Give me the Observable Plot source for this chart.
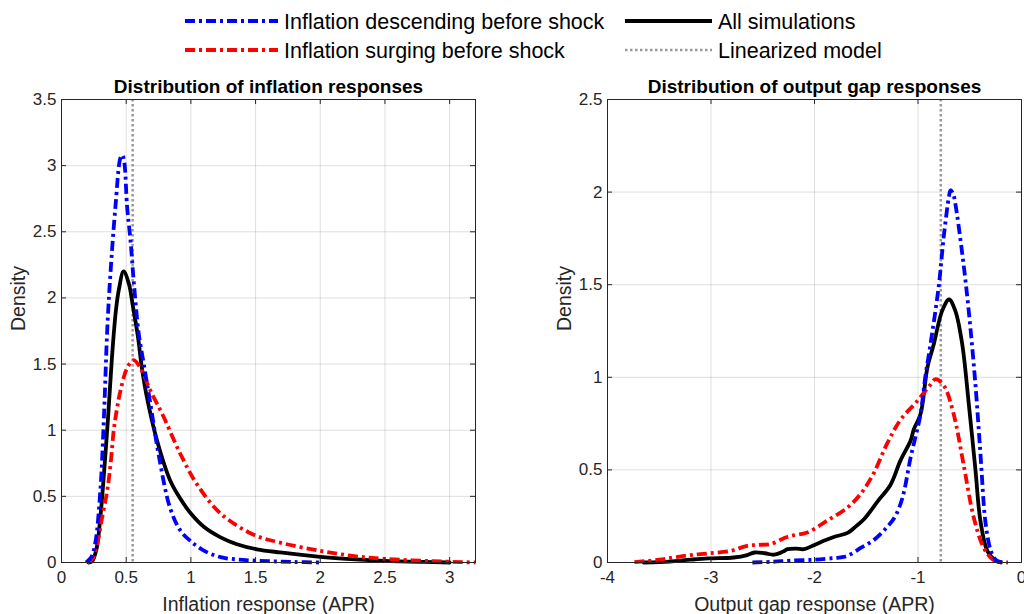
<!DOCTYPE html>
<html>
<head>
<meta charset="utf-8">
<script src="https://cdn.jsdelivr.net/npm/d3@7"></script>
<script src="https://cdn.jsdelivr.net/npm/@observablehq/plot@0.6"></script>
<style>
  body { margin: 0; background: #fff; font-family: "Liberation Sans", Arial, sans-serif; }
  #wrap { position: relative; width: 1024px; height: 614px; overflow: hidden; background: #fff; }
  .panel { position: absolute; top: 0; }
</style>
</head>
<body>
<div id="wrap"></div>
<script>
// ---------------- DATA ----------------
const seriesNames = ["Inflation descending before shock", "Inflation surging before shock", "All simulations", "Linearized model"];
const seriesColors = ["#0000ff", "#ff0000", "#000000", "#999999"];

// Left panel: inflation responses
const inflDescX = [0.19,0.23,0.26,0.30,0.33,0.353,0.378,0.417,0.456,0.47,0.485,0.507,0.533,0.558,0.597,0.636,0.687,0.75,0.84,0.92,1.0,1.1,1.23,1.4,1.6,1.8,2.0];
const inflDescY = [0,0.04,0.14,0.54,1.15,1.75,2.18,2.69,3.06,3.08,3.03,2.69,2.44,2.13,1.73,1.50,1.20,0.82,0.41,0.24,0.16,0.09,0.04,0.02,0.01,0.004,0];
const inflSurgX = [0.2,0.24,0.276,0.31,0.353,0.38,0.404,0.43,0.456,0.507,0.558,0.61,0.687,0.79,0.919,1.048,1.23,1.485,1.69,2.0,2.25,2.49,2.87,3.2];
const inflSurgY = [0,0.03,0.14,0.32,0.54,0.75,1.0,1.17,1.30,1.47,1.53,1.47,1.30,1.10,0.82,0.59,0.37,0.21,0.15,0.088,0.05,0.028,0.01,0.0];
const inflAllX = [0.21,0.237,0.27,0.30,0.353,0.39,0.42,0.443,0.48,0.52,0.553,0.592,0.62,0.66,0.739,0.84,0.92,1.0,1.1,1.23,1.35,1.51,1.69,2.0,2.2,2.49,2.8,3.0];
const inflAllY = [0,0.01,0.1,0.34,1.0,1.55,1.9,2.06,2.2,2.11,1.93,1.70,1.48,1.25,0.92,0.62,0.48,0.37,0.27,0.19,0.14,0.10,0.076,0.043,0.028,0.013,0.004,0];
const inflLinear = 0.55;

// Right panel: output gap responses
const gapDescX = [-2.6,-2.4,-2.23,-2.0,-1.81,-1.72,-1.65,-1.55,-1.43,-1.3,-1.22,-1.15,-1.07,-0.976,-0.93,-0.879,-0.80,-0.751,-0.70,-0.686,-0.66,-0.64,-0.573,-0.51,-0.445,-0.397,-0.35,-0.31,-0.284,-0.24,-0.17];
const gapDescY = [0,0.004,0.01,0.015,0.024,0.03,0.045,0.08,0.12,0.19,0.25,0.35,0.57,0.80,1.0,1.18,1.49,1.76,1.98,2.01,1.99,1.94,1.67,1.36,0.96,0.59,0.225,0.09,0.045,0.01,0];
const gapSurgX = [-3.74,-3.5,-3.36,-3.2,-3.03,-2.81,-2.65,-2.55,-2.42,-2.3,-2.23,-2.07,-1.88,-1.68,-1.555,-1.43,-1.30,-1.17,-1.01,-0.88,-0.83,-0.75,-0.655,-0.56,-0.46,-0.365,-0.27,-0.13];
const gapSurgY = [0.002,0.015,0.027,0.04,0.049,0.063,0.09,0.095,0.10,0.13,0.144,0.162,0.225,0.297,0.37,0.48,0.64,0.77,0.87,0.96,0.99,0.955,0.80,0.53,0.24,0.08,0.013,0];
const gapAllX = [-3.65,-3.4,-3.2,-3.03,-2.78,-2.65,-2.58,-2.48,-2.39,-2.3,-2.26,-2.18,-2.10,-2.0,-1.91,-1.8,-1.68,-1.6,-1.52,-1.39,-1.265,-1.17,-1.07,-1.04,-0.976,-0.91,-0.847,-0.766,-0.70,-0.64,-0.573,-0.51,-0.445,-0.397,-0.33,-0.25,-0.2];
const gapAllY = [0,0.005,0.015,0.022,0.027,0.04,0.054,0.05,0.042,0.06,0.072,0.075,0.072,0.095,0.117,0.14,0.16,0.195,0.235,0.33,0.42,0.55,0.66,0.72,0.80,1.05,1.18,1.36,1.42,1.36,1.18,0.86,0.50,0.225,0.063,0.01,0];
const gapLinear = -0.78;

// Axes
const inflTicksX = [0,0.5,1,1.5,2,2.5,3];
const inflTicksY = [0,0.5,1,1.5,2,2.5,3,3.5];
const gapTicksX = [-4,-3,-2,-1,0];
const gapTicksY = [0,0.5,1,1.5,2,2.5];

const titles = ["Distribution of inflation responses", "Distribution of output gap responses"];
const xLabels = ["Inflation response (APR)", "Output gap response (APR)"];
const yLabel = "Density";

// ---------------- DRAW ----------------
const zip = (xs, ys) => xs.map((x, i) => ({x, y: ys[i]}));
const DASHDOT = "10,4,3,4";
const DOTTED = "2.5,2.5";
const FONT = "Liberation Sans, Arial, sans-serif";
const TXT = "#262626";

function panel({xDomain, yDomain, xTicks, yTicks, desc, surg, all, lin, title, xLabel, width, ml, mr}) {
  const H = 614, mt = 99, mb = 52;
  const fh = H - mt - mb;
  const fw = width - ml - mr;
  return Plot.plot({
    width, height: H,
    marginLeft: ml, marginRight: mr, marginTop: mt, marginBottom: mb,
    style: {fontFamily: FONT, fontSize: "17px", color: TXT, background: "transparent", overflow: "visible"},
    x: {domain: xDomain, ticks: xTicks},
    y: {domain: yDomain, ticks: yTicks},
    marks: [
      Plot.gridX(xTicks, {stroke: TXT, strokeOpacity: 0.15, strokeWidth: 1}),
      Plot.gridY(yTicks, {stroke: TXT, strokeOpacity: 0.15, strokeWidth: 1}),
      Plot.ruleX([lin], {stroke: seriesColors[3], strokeWidth: 2.5, strokeDasharray: DOTTED}),
      Plot.line(all, {x: "x", y: "y", stroke: seriesColors[2], strokeWidth: 3.8, curve: "catmull-rom"}),
      Plot.line(surg, {x: "x", y: "y", stroke: seriesColors[1], strokeWidth: 3.8, strokeDasharray: DASHDOT, strokeLinecap: "butt", curve: "catmull-rom"}),
      Plot.line(desc, {x: "x", y: "y", stroke: seriesColors[0], strokeWidth: 3.8, strokeDasharray: DASHDOT, strokeLinecap: "butt", curve: "catmull-rom"}),
      // inward ticks (MATLAB style box)
      Plot.ruleX(xTicks, {stroke: TXT, strokeWidth: 1, insetTop: fh - 5}),
      Plot.ruleX(xTicks, {stroke: TXT, strokeWidth: 1, insetBottom: fh - 5}),
      Plot.ruleY(yTicks, {stroke: TXT, strokeWidth: 1, insetRight: fw - 5}),
      Plot.ruleY(yTicks, {stroke: TXT, strokeWidth: 1, insetLeft: fw - 5}),
      Plot.frame({stroke: TXT, strokeWidth: 1}),
      Plot.axisX(xTicks, {tickSize: 0, tickPadding: 8, tickFormat: d => String(d), label: null, fontSize: 17, fill: TXT}),
      Plot.axisY(yTicks, {tickSize: 0, tickPadding: 5, tickFormat: d => String(d), label: null, fontSize: 17, fill: TXT}),
      Plot.text([title], {text: d => d, frameAnchor: "top", lineAnchor: "middle", dy: -13, fontWeight: "bold", fontSize: 19, fill: "#000"}),
      Plot.text([xLabel], {text: d => d, frameAnchor: "bottom", lineAnchor: "middle", dy: 42, fontSize: 19.5, fill: TXT}),
      Plot.text([yLabel], {text: d => d, frameAnchor: "left", dx: -43, rotate: -90, fontSize: 19.5, fill: TXT})
    ]
  });
}

const wrap = document.getElementById("wrap");

const left = panel({
  xDomain: [0, 3.2], yDomain: [0, 3.5], xTicks: inflTicksX, yTicks: inflTicksY,
  desc: zip(inflDescX, inflDescY), surg: zip(inflSurgX, inflSurgY), all: zip(inflAllX, inflAllY),
  lin: inflLinear, title: titles[0], xLabel: xLabels[0], width: 500, ml: 61, mr: 25
});
left.classList.add("panel");
left.style.left = "0px";
wrap.appendChild(left);

const right = panel({
  xDomain: [-4, 0], yDomain: [0, 2.5], xTicks: gapTicksX, yTicks: gapTicksY,
  desc: zip(gapDescX, gapDescY), surg: zip(gapSurgX, gapSurgY), all: zip(gapAllX, gapAllY),
  lin: gapLinear, title: titles[1], xLabel: xLabels[1], width: 484, ml: 67, mr: 3
});
right.classList.add("panel");
right.style.left = "540px";
wrap.appendChild(right);

// Legend
const legendItems = [
  {name: seriesNames[0], color: seriesColors[0], dash: DASHDOT, w: 3.8, x1: 185, x2: 278, tx: 284, y: 21},
  {name: seriesNames[1], color: seriesColors[1], dash: DASHDOT, w: 3.8, x1: 185, x2: 278, tx: 284, y: 50},
  {name: seriesNames[2], color: seriesColors[2], dash: null, w: 3.8, x1: 625, x2: 712, tx: 718, y: 21},
  {name: seriesNames[3], color: seriesColors[3], dash: DOTTED, w: 2.5, x1: 625, x2: 712, tx: 718, y: 50}
];
const ns = "http://www.w3.org/2000/svg";
const lsvg = document.createElementNS(ns, "svg");
lsvg.setAttribute("width", 1024); lsvg.setAttribute("height", 70);
lsvg.style.position = "absolute"; lsvg.style.left = "0"; lsvg.style.top = "0";
for (const it of legendItems) {
  const l = document.createElementNS(ns, "line");
  l.setAttribute("x1", it.x1); l.setAttribute("x2", it.x2);
  l.setAttribute("y1", it.y); l.setAttribute("y2", it.y);
  l.setAttribute("stroke", it.color); l.setAttribute("stroke-width", it.w);
  if (it.dash) l.setAttribute("stroke-dasharray", it.dash);
  lsvg.appendChild(l);
  const t = document.createElementNS(ns, "text");
  t.setAttribute("x", it.tx); t.setAttribute("y", it.y);
  t.setAttribute("dy", "0.35em");
  t.setAttribute("font-family", FONT); t.setAttribute("font-size", "21.5");
  t.setAttribute("fill", "#000");
  t.textContent = it.name;
  lsvg.appendChild(t);
}
wrap.appendChild(lsvg);
</script>
</body>
</html>
